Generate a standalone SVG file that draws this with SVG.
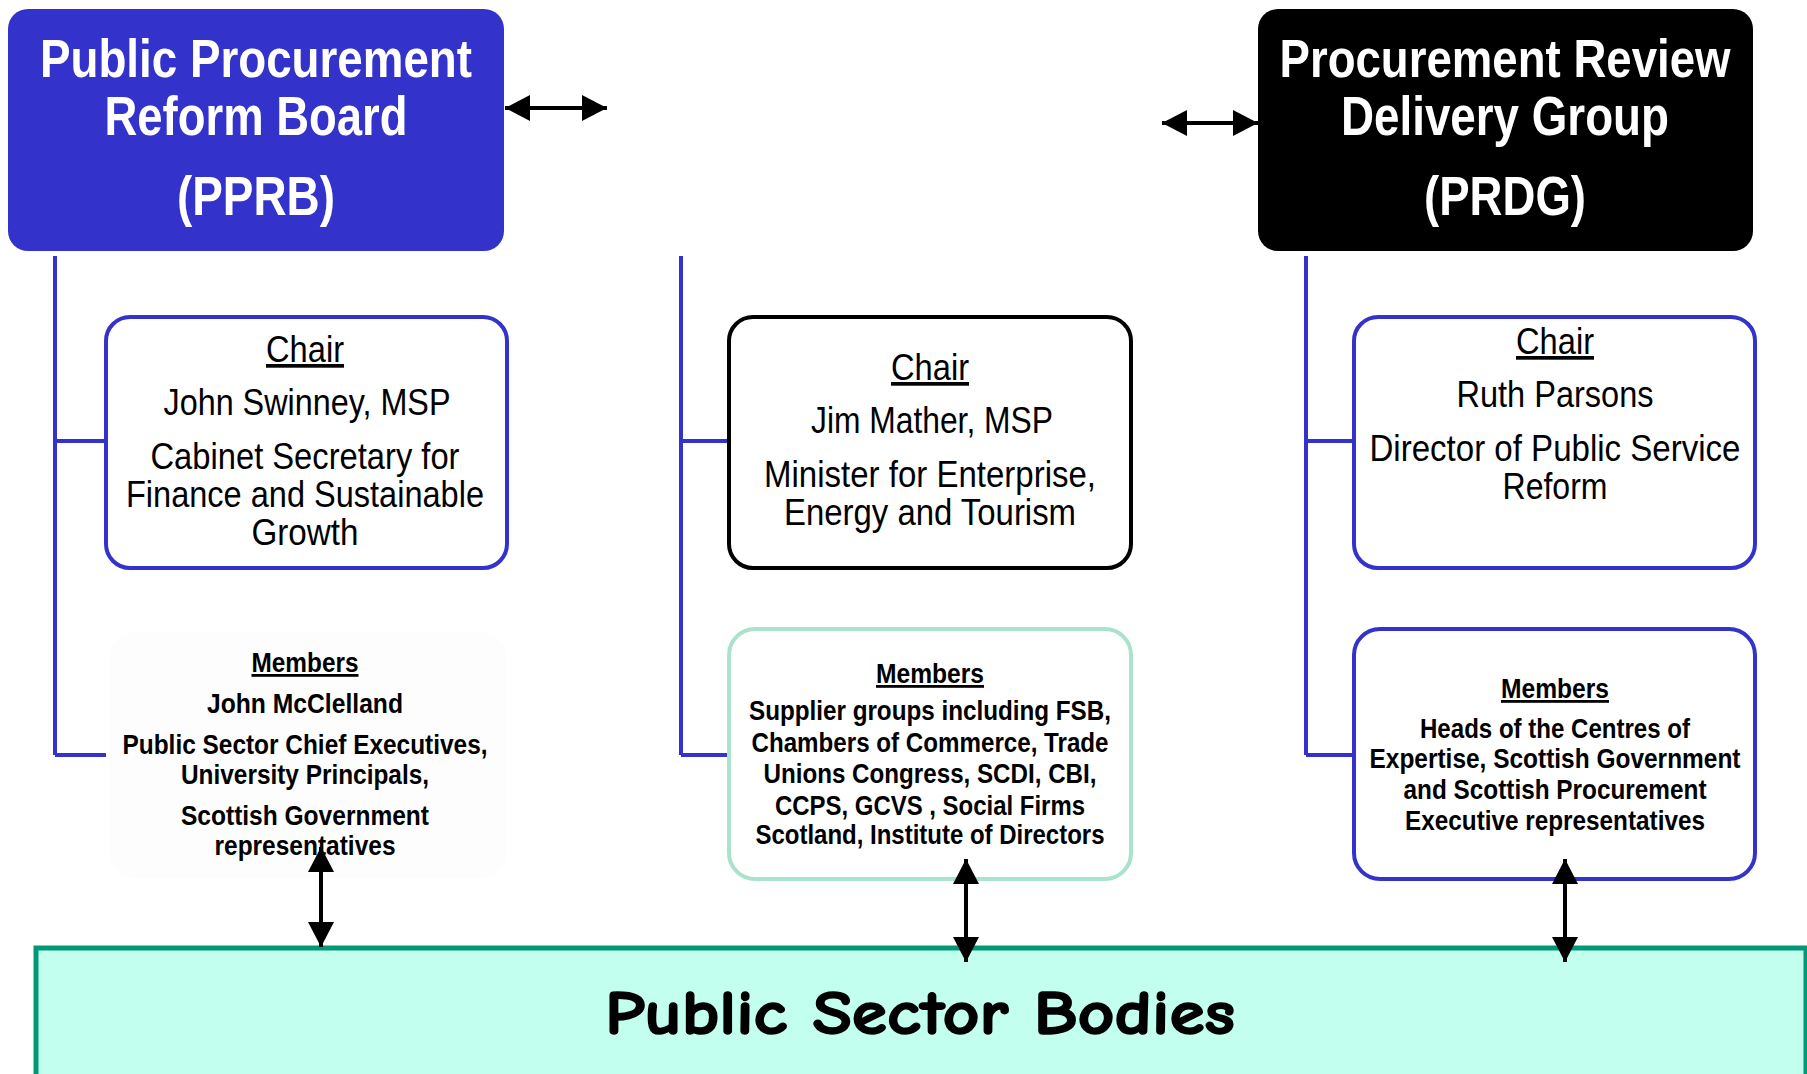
<svg xmlns="http://www.w3.org/2000/svg" width="1807" height="1074" viewBox="0 0 1807 1074">
<style>
.title{font-family:"Liberation Sans Narrow","Liberation Sans",Arial,sans-serif;font-weight:bold;font-size:56px;fill:#ffffff;text-anchor:middle}
.chair{font-family:"Liberation Sans Narrow","Liberation Sans",Arial,sans-serif;font-size:37px;fill:#000;text-anchor:middle}
.mem{font-family:"Liberation Sans Narrow","Liberation Sans",Arial,sans-serif;font-weight:bold;font-size:28px;fill:#000;text-anchor:middle}
.u{text-decoration:underline}
.blue{fill:#ffffff;stroke:#3333CC;stroke-width:4}
.bl{stroke:#3333CC;stroke-width:4;fill:none}
.arr{stroke:#000;stroke-width:4;fill:none;marker-start:url(#ah);marker-end:url(#ah)}
.psb{font-family:"Comic Sans MS","Comic Neue","DejaVu Sans",sans-serif;font-weight:bold;font-size:62px;fill:#000;stroke:#000;stroke-width:1.6;text-anchor:middle}
</style>
<defs>
<marker id="ah" markerUnits="userSpaceOnUse" markerWidth="26" markerHeight="28" refX="25" refY="13" orient="auto-start-reverse" viewBox="0 0 26 26">
<path d="M0,0 L25,13 L0,26 Z" fill="#000"/>
</marker>
</defs>
<rect x="0" y="0" width="1807" height="1074" fill="#ffffff"/>

<g id="psb">
<rect x="36" y="948" width="1770" height="140" fill="#C2FFEE" stroke="#009977" stroke-width="5"/>
<text class="psb" x="920" y="1034" textLength="630" lengthAdjust="spacingAndGlyphs">Public Sector Bodies</text>
</g>

<g id="connectors-lines">
<path class="bl" d="M55,256 V755 M55,441 H106 M55,755 H106"/>
<path class="bl" d="M681,256 V755 M681,441 H729 M681,755 H729"/>
<path class="bl" d="M1306,256 V755 M1306,441 H1354 M1306,755 H1354"/>
</g>

<g id="pprb">
<rect x="8" y="9" width="496" height="242" rx="20" fill="#3333CC"/>
<text class="title" x="256" y="77" style="font-size:53px" textLength="432" lengthAdjust="spacingAndGlyphs">Public Procurement</text>
<text class="title" x="256" y="135" textLength="303" lengthAdjust="spacingAndGlyphs">Reform Board</text>
<text class="title" x="256" y="215" textLength="158" lengthAdjust="spacingAndGlyphs">(PPRB)</text>
</g>

<g id="prdg">
<rect x="1258" y="9" width="495" height="242" rx="20" fill="#000000"/>
<text class="title" x="1505" y="77" style="font-size:53px" textLength="451" lengthAdjust="spacingAndGlyphs">Procurement Review</text>
<text class="title" x="1505" y="135" textLength="328" lengthAdjust="spacingAndGlyphs">Delivery Group</text>
<text class="title" x="1505" y="215" textLength="162" lengthAdjust="spacingAndGlyphs">(PRDG)</text>
</g>

<g id="chair-pprb">
<rect class="blue" x="106" y="317" width="401" height="251" rx="24"/>
<text class="chair u" x="305" y="362" textLength="78" lengthAdjust="spacingAndGlyphs">Chair</text>
<text class="chair" x="307" y="415" textLength="287" lengthAdjust="spacingAndGlyphs">John Swinney, MSP</text>
<text class="chair" x="305" y="469" textLength="309" lengthAdjust="spacingAndGlyphs">Cabinet Secretary  for</text>
<text class="chair" x="305" y="507" textLength="358" lengthAdjust="spacingAndGlyphs">Finance and Sustainable</text>
<text class="chair" x="305" y="545" textLength="107" lengthAdjust="spacingAndGlyphs">Growth</text>
</g>

<g id="chair-mid">
<rect x="729" y="317" width="402" height="251" rx="24" fill="#ffffff" stroke="#000" stroke-width="4"/>
<text class="chair u" x="930" y="380" textLength="78" lengthAdjust="spacingAndGlyphs">Chair</text>
<text class="chair" x="932" y="433" textLength="242" lengthAdjust="spacingAndGlyphs">Jim Mather, MSP</text>
<text class="chair" x="930" y="487" textLength="332" lengthAdjust="spacingAndGlyphs">Minister for Enterprise,</text>
<text class="chair" x="930" y="525" textLength="292" lengthAdjust="spacingAndGlyphs">Energy and Tourism</text>
</g>

<g id="chair-prdg">
<rect class="blue" x="1354" y="317" width="401" height="251" rx="24"/>
<text class="chair u" x="1555" y="354" textLength="78" lengthAdjust="spacingAndGlyphs">Chair</text>
<text class="chair" x="1555" y="407" textLength="197" lengthAdjust="spacingAndGlyphs">Ruth Parsons</text>
<text class="chair" x="1555" y="461" textLength="371" lengthAdjust="spacingAndGlyphs">Director of Public Service</text>
<text class="chair" x="1555" y="499" textLength="105" lengthAdjust="spacingAndGlyphs">Reform</text>
</g>

<g id="members-pprb">
<rect x="109" y="632" width="398" height="246" rx="26" fill="#fdfdfd"/>
<text class="mem u" x="305" y="672" textLength="107" lengthAdjust="spacingAndGlyphs">Members</text>
<text class="mem" x="305" y="713" textLength="196" lengthAdjust="spacingAndGlyphs">John McClelland</text>
<text class="mem" x="305" y="754" textLength="365" lengthAdjust="spacingAndGlyphs">Public Sector Chief Executives,</text>
<text class="mem" x="305" y="784" textLength="248" lengthAdjust="spacingAndGlyphs">University Principals,</text>
<text class="mem" x="305" y="825" textLength="248" lengthAdjust="spacingAndGlyphs">Scottish Government</text>
<text class="mem" x="305" y="855" textLength="181" lengthAdjust="spacingAndGlyphs">representatives</text>
</g>

<g id="members-mid">
<rect x="729" y="629" width="402" height="250" rx="26" fill="#ffffff" stroke="#AAE3CC" stroke-width="4"/>
<text class="mem u" x="930" y="683" textLength="108" lengthAdjust="spacingAndGlyphs">Members</text>
<text class="mem" x="930" y="720" textLength="362" lengthAdjust="spacingAndGlyphs">Supplier groups including FSB,</text>
<text class="mem" x="930" y="752" textLength="357" lengthAdjust="spacingAndGlyphs">Chambers of Commerce, Trade</text>
<text class="mem" x="930" y="783" textLength="333" lengthAdjust="spacingAndGlyphs">Unions Congress, SCDI, CBI,</text>
<text class="mem" x="930" y="815" textLength="310" lengthAdjust="spacingAndGlyphs">CCPS, GCVS , Social Firms</text>
<text class="mem" x="930" y="844" textLength="349" lengthAdjust="spacingAndGlyphs">Scotland, Institute of Directors</text>
</g>

<g id="members-prdg">
<rect class="blue" x="1354" y="629" width="401" height="250" rx="26"/>
<text class="mem u" x="1555" y="698" textLength="108" lengthAdjust="spacingAndGlyphs">Members</text>
<text class="mem" x="1555" y="738" textLength="270" lengthAdjust="spacingAndGlyphs">Heads of the Centres of</text>
<text class="mem" x="1555" y="768" textLength="371" lengthAdjust="spacingAndGlyphs">Expertise, Scottish Government</text>
<text class="mem" x="1555" y="799" textLength="303" lengthAdjust="spacingAndGlyphs">and Scottish Procurement</text>
<text class="mem" x="1555" y="830" textLength="300" lengthAdjust="spacingAndGlyphs">Executive representatives</text>
</g>

<g id="connectors">
<line class="arr" x1="505" y1="108" x2="607" y2="108"/>
<line class="arr" x1="1162" y1="123" x2="1258" y2="123"/>
<line class="arr" x1="321" y1="847" x2="321" y2="947"/>
<line class="arr" x1="966" y1="859" x2="966" y2="962"/>
<line class="arr" x1="1565" y1="859" x2="1565" y2="962"/>
</g>
</svg>
